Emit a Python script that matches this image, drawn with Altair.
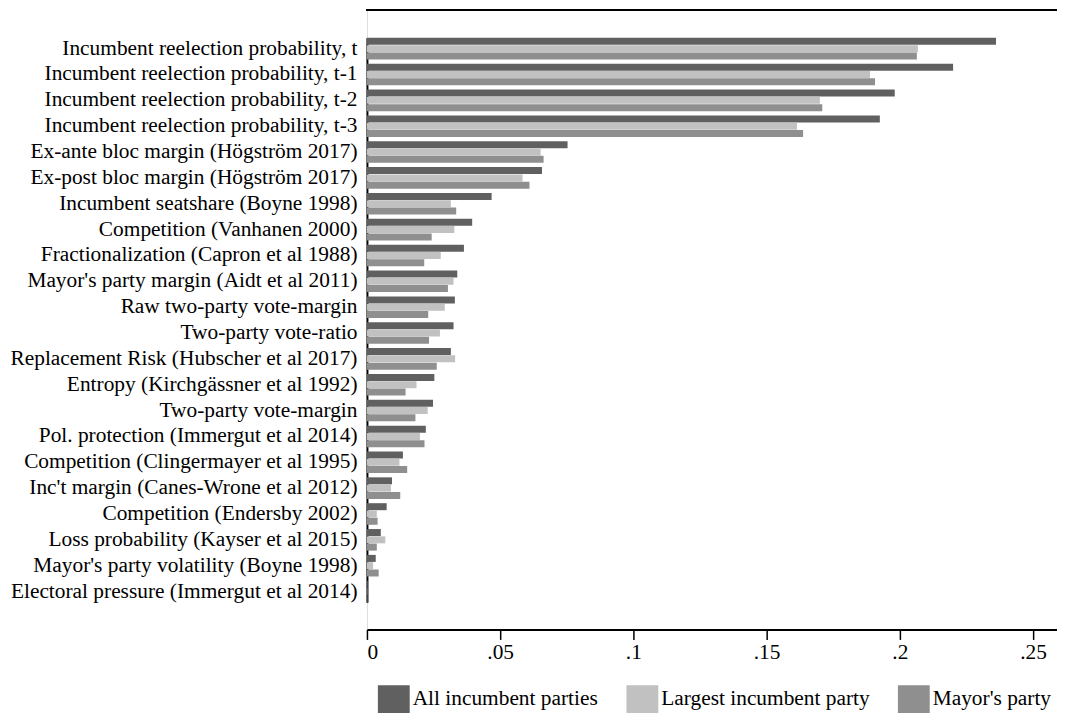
import altair as alt
import pandas as pd

categories = [
    "Incumbent reelection probability, t",
    "Incumbent reelection probability, t-1",
    "Incumbent reelection probability, t-2",
    "Incumbent reelection probability, t-3",
    "Ex-ante bloc margin (Högström 2017)",
    "Ex-post bloc margin (Högström 2017)",
    "Incumbent seatshare (Boyne 1998)",
    "Competition (Vanhanen 2000)",
    "Fractionalization (Capron et al 1988)",
    "Mayor's party margin (Aidt et al 2011)",
    "Raw two-party vote-margin",
    "Two-party vote-ratio",
    "Replacement Risk (Hubscher et al 2017)",
    "Entropy (Kirchgässner et al 1992)",
    "Two-party vote-margin",
    "Pol. protection (Immergut et al 2014)",
    "Competition (Clingermayer et al 1995)",
    "Inc't margin (Canes-Wrone et al 2012)",
    "Competition (Endersby 2002)",
    "Loss probability (Kayser et al 2015)",
    "Mayor's party volatility (Boyne 1998)",
    "Electoral pressure (Immergut et al 2014)",
]

series = ["All incumbent parties", "Largest incumbent party", "Mayor's party"]

all_incumbent = [0.2361, 0.2200, 0.1981, 0.1925, 0.0753, 0.0657, 0.0468, 0.0395,
                 0.0364, 0.0339, 0.0330, 0.0325, 0.0315, 0.0253, 0.0248, 0.0221,
                 0.0135, 0.0094, 0.0074, 0.0052, 0.0033, 0.0003]
largest_incumbent = [0.2068, 0.1888, 0.1700, 0.1614, 0.0652, 0.0584, 0.0315, 0.0328,
                     0.0277, 0.0325, 0.0292, 0.0274, 0.0331, 0.0186, 0.0228, 0.0199,
                     0.0122, 0.0090, 0.0037, 0.0069, 0.0023, 0.0002]
mayors_party = [0.2064, 0.1907, 0.1709, 0.1637, 0.0663, 0.0610, 0.0335, 0.0243,
                0.0215, 0.0304, 0.0230, 0.0233, 0.0262, 0.0145, 0.0182, 0.0216,
                0.0151, 0.0125, 0.0040, 0.0037, 0.0044, 0.0002]

tick_values = [0, 0.05, 0.1, 0.15, 0.2, 0.25]
colors = ["#606060", "#c1c1c1", "#8f8f8f"]

rows = []
for s, vals in zip(series, [all_incumbent, largest_incumbent, mayors_party]):
    for c, v in zip(categories, vals):
        rows.append({"measure": c, "series": s, "value": v})
df = pd.DataFrame(rows)

W = 694
H = 623
FONT = "Liberation Serif"
FS = 21.5

bars = alt.Chart(df).mark_bar().encode(
    x=alt.X("value:Q",
            scale=alt.Scale(domain=[0, 0.259], nice=False, zero=True),
            axis=alt.Axis(values=tick_values, title=None, grid=False,
                          labelExpr="datum.value == 0 ? '0' : substring(format(datum.value, '.2~f'), 1)",
                          domainColor="black", domainWidth=2, tickColor="black",
                          tickWidth=1.5, tickSize=10, labelFontSize=FS, labelFont=FONT,
                          labelColor="black", labelPadding=2)),
    y=alt.Y("measure:N", sort=categories,
            scale=alt.Scale(domain=categories, paddingInner=0.165, paddingOuter=0,
                            range=[28, 595.7]),
            axis=alt.Axis(title=None, ticks=False, domainColor="black", domainWidth=2,
                          labelFontSize=FS, labelFont=FONT, labelColor="black",
                          labelPadding=10, labelLimit=400)),
    yOffset=alt.YOffset("series:N", sort=series,
                        scale=alt.Scale(domain=series, paddingInner=0.04)),
    color=alt.Color("series:N", sort=series,
                    scale=alt.Scale(domain=series, range=colors),
                    legend=alt.Legend(title=None, orient="none", direction="horizontal",
                                      legendX=13, legendY=679,
                                      symbolType="M-1.143,-1H1.143V1H-1.143Z",
                                      symbolSize=784, symbolStrokeWidth=0,
                                      symbolOpacity=1, labelFont=FONT, labelFontSize=FS,
                                      labelColor="black", labelOffset=5,
                                      columnPadding=27, labelLimit=400)),
)

top_rule = alt.Chart(df).mark_rule(color="black", strokeWidth=2).encode(
    x=alt.value(0), x2=alt.value(W), y=alt.value(0)
)

chart = alt.layer(bars, top_rule).properties(
    width=W, height=H,
    autosize=alt.AutoSizeParams(type="none"),
    padding={"left": 361, "right": 0, "top": 0, "bottom": 87},
).configure_view(stroke=None).configure(background="white")

chart.save("out.html", embed_options={"renderer": "svg", "actions": False})
